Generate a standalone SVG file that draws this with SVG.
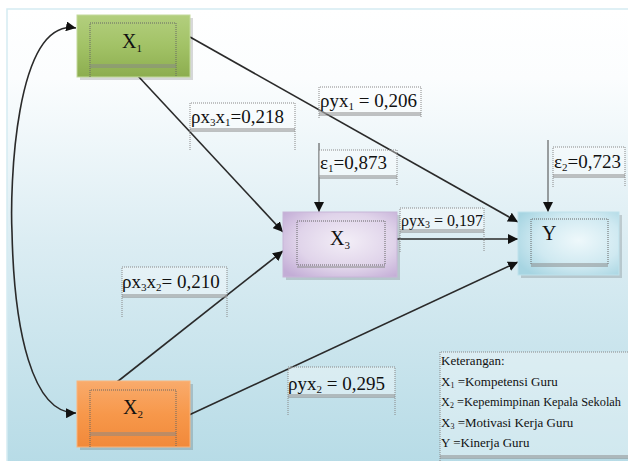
<svg xmlns="http://www.w3.org/2000/svg" width="628" height="461" viewBox="0 0 628 461">
<defs>
<linearGradient id="bg" x1="0" y1="0" x2="0" y2="1">
<stop offset="0" stop-color="#ffffff"/>
<stop offset="0.15" stop-color="#fbfdfe"/>
<stop offset="0.5" stop-color="#dcedf3"/>
<stop offset="1" stop-color="#b6dbe6"/>
</linearGradient>
<linearGradient id="gGreen" x1="0" y1="0" x2="0" y2="1">
<stop offset="0" stop-color="#b3cf7e"/>
<stop offset="0.5" stop-color="#a2c266"/>
<stop offset="1" stop-color="#8cad4f"/>
</linearGradient>
<linearGradient id="gOrange" x1="0" y1="0" x2="0" y2="1">
<stop offset="0" stop-color="#f9ab6c"/>
<stop offset="0.5" stop-color="#f7984b"/>
<stop offset="1" stop-color="#f1893a"/>
</linearGradient>
<radialGradient id="gPurple" cx="0.55" cy="0.45" r="0.7">
<stop offset="0" stop-color="#f3eef7"/>
<stop offset="0.6" stop-color="#e0d4ea"/>
<stop offset="1" stop-color="#c3add6"/>
</radialGradient>
<radialGradient id="gCyan" cx="0.6" cy="0.45" r="0.7">
<stop offset="0" stop-color="#eef8fb"/>
<stop offset="0.6" stop-color="#cfe9f1"/>
<stop offset="1" stop-color="#a7d5e2"/>
</radialGradient>
<marker id="ah" markerUnits="userSpaceOnUse" markerWidth="11" markerHeight="10" refX="10" refY="5" orient="auto-start-reverse">
<path d="M0,0 L10,5 L0,10 z" fill="#111"/>
</marker>
<style>
.dot{stroke:#888;stroke-width:1;stroke-dasharray:1 1;fill:none}
.dbl{stroke:#888;stroke-width:1;fill:none}
.lb{fill:#ffffff;fill-opacity:0.35}
.con{stroke:#2a2a2a;stroke-width:1.6;fill:none}
.shadow{fill:#000;fill-opacity:0.15}
.inner{stroke:#666;stroke-width:1;stroke-dasharray:1 1;fill:none}
</style>
</defs>
<rect width="628" height="461" fill="#ffffff"/>
<rect x="7" y="9" width="625" height="460" fill="url(#bg)" stroke="#d5ecf2" stroke-width="1.5"/>

<g id="connectors">
<path class="con" d="M76,28 C14,18 10,190 12,232 C14,330 32,414 76,413" marker-start="url(#ah)" marker-end="url(#ah)"/>
<line class="con" x1="125" y1="62" x2="283" y2="232" marker-end="url(#ah)"/>
<line class="con" x1="117" y1="382" x2="283" y2="251" marker-end="url(#ah)"/>
<line class="con" x1="190" y1="37" x2="518" y2="222" marker-end="url(#ah)"/>
<line class="con" x1="397" y1="239" x2="518" y2="239" stroke-width="2.2" marker-end="url(#ah)"/>
<line class="con" x1="189" y1="415" x2="518" y2="262" marker-end="url(#ah)"/>
<line x1="319" y1="143" x2="319" y2="212" stroke="#444" stroke-width="1" marker-end="url(#ah)"/>
<line x1="548" y1="140" x2="548" y2="212" stroke="#444" stroke-width="1" marker-end="url(#ah)"/>
</g>

<g font-family="Liberation Serif" fill="#111">
<g id="node-x1">
<rect class="shadow" x="80" y="18" width="113" height="62"/>
<rect x="77" y="15" width="113" height="62" fill="url(#gGreen)" stroke="#c3da9c" stroke-width="1"/>
<path class="inner" d="M90,77 V23 H176 V77"/>
<path class="dbl" d="M90,65 H176 M90,67 H176"/>
<text font-size="20" x="122" y="48">X<tspan font-size="11" dy="4">1</tspan></text>
</g>

<g id="node-x2">
<rect class="shadow" x="80" y="384" width="113" height="66"/>
<rect x="77" y="381" width="113" height="66" fill="url(#gOrange)" stroke="#f9b57e" stroke-width="1"/>
<path class="inner" d="M90,447 V390 H176 V447"/>
<path class="dbl" d="M90,433 H176 M90,435 H176"/>
<text font-size="20" x="123" y="414">X<tspan font-size="11" dy="4">2</tspan></text>
</g>

<g id="node-x3">
<rect class="shadow" x="286" y="215" width="114" height="65"/>
<rect x="283" y="212" width="114" height="65" fill="url(#gPurple)" stroke="#c8b6d8" stroke-width="1"/>
<path class="inner" d="M297,221 H385 V265 H297 Z"/>
<path class="dbl" d="M297,267 H385"/>
<text font-size="20" x="330" y="245">X<tspan font-size="11" dy="4">3</tspan></text>
</g>

<g id="node-y">
<rect class="shadow" x="521" y="215" width="101" height="63"/>
<rect x="518" y="212" width="101" height="63" fill="url(#gCyan)" stroke="#bfe2ec" stroke-width="1"/>
<path class="inner" d="M531,264 V219 H608 V264"/>
<path class="dbl" d="M531,264 H608 M531,266 H608"/>
<text font-size="20" x="542" y="240">Y</text>
</g>

<g id="label-px3x1">
<rect class="lb" x="190" y="103" width="105" height="28"/>
<path class="dot" d="M190,150 V103 H295 V150"/>
<path class="dbl" d="M190,129 H295 M190,131 H295"/>
<text font-size="19" x="191" y="123">ρx<tspan font-size="11" dy="3">3</tspan><tspan dy="-3">x</tspan><tspan font-size="11" dy="3">1</tspan><tspan dy="-3">=0,218</tspan></text>
</g>

<g id="label-pyx1">
<rect class="lb" x="319" y="87" width="102" height="27"/>
<path class="dot" d="M319,118 V87 H421 V118"/>
<path class="dbl" d="M319,113 H421 M319,115 H421"/>
<text font-size="19" x="320" y="107">ρyx<tspan font-size="11" dy="3">1</tspan><tspan dy="-3"> = 0,206</tspan></text>
</g>

<g id="label-e1">
<rect class="lb" x="319" y="150" width="78" height="27"/>
<path class="dot" d="M319,150 H397 V185"/>
<path class="dbl" d="M319,176 H397 M319,178 H397"/>
<text font-size="19" x="320" y="169">ε<tspan font-size="11" dy="3">1</tspan><tspan dy="-3">=0,873</tspan></text>
</g>

<g id="label-e2">
<rect class="lb" x="553" y="147" width="72" height="30"/>
<path class="dot" d="M553,187 V147 H625 V187"/>
<path class="dbl" d="M553,175 H625 M553,177 H625"/>
<text font-size="19" x="554" y="168">ε<tspan font-size="11" dy="3">2</tspan><tspan dy="-3">=0,723</tspan></text>
</g>

<g id="label-pyx3">
<rect class="lb" x="400" y="208" width="84" height="24"/>
<path class="dot" d="M400,252 V208 H484 V252"/>
<path class="dbl" d="M400,230 H484 M400,232 H484"/>
<text font-size="16" x="401" y="226">ρyx<tspan font-size="10" dy="2">3</tspan><tspan dy="-2"> = 0,197</tspan></text>
</g>

<g id="label-px3x2">
<rect class="lb" x="122" y="267" width="105" height="30"/>
<path class="dot" d="M122,317 V267 H227 V317"/>
<path class="dbl" d="M122,295 H227 M122,297 H227"/>
<text font-size="19" x="122" y="288">ρx<tspan font-size="11" dy="3">3</tspan><tspan dy="-3">x</tspan><tspan font-size="11" dy="3">2</tspan><tspan dy="-3">= 0,210</tspan></text>
</g>

<g id="label-pyx2">
<rect class="lb" x="288" y="367" width="107" height="30"/>
<path class="dot" d="M288,415 V367 H395 V415"/>
<path class="dbl" d="M288,395 H395 M288,397 H395"/>
<text font-size="19" x="288" y="390">ρyx<tspan font-size="11" dy="3">2</tspan><tspan dy="-3"> = 0,295</tspan></text>
</g>

<g id="legend">
<rect class="lb" x="440" y="352" width="190" height="106"/>
<path class="dot" d="M440,461 V352 H630"/>
<path class="dbl" d="M440,456 H630 M440,458 H630"/>
<text font-size="13" x="441" y="365">Keterangan:</text>
<text font-size="13" x="441" y="386">X<tspan font-size="8" dy="2">1</tspan><tspan dy="-2"> =Kompetensi Guru</tspan></text>
<text font-size="12.5" x="441" y="406" textLength="180" lengthAdjust="spacingAndGlyphs">X<tspan font-size="8" dy="2">2</tspan><tspan dy="-2"> =Kepemimpinan Kepala Sekolah</tspan></text>
<text font-size="13" x="441" y="427">X<tspan font-size="8" dy="2">3</tspan><tspan dy="-2"> =Motivasi Kerja Guru</tspan></text>
<text font-size="13" x="441" y="447">Y  =Kinerja Guru</text>
</g>
</g>
</svg>
